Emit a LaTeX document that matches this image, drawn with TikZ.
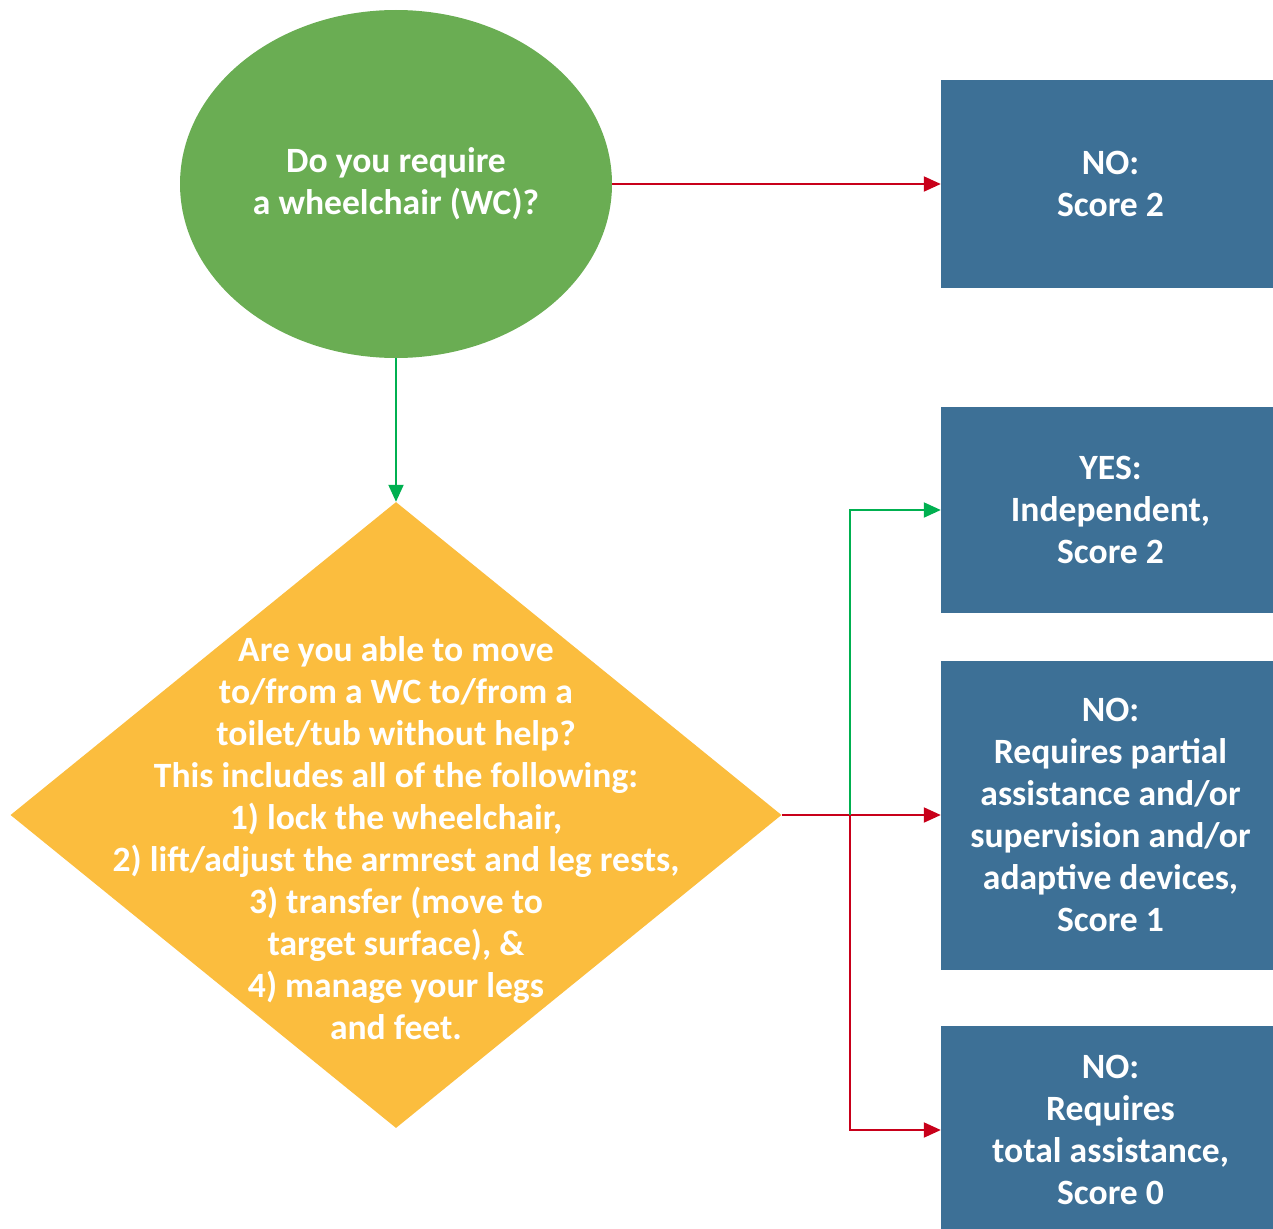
\documentclass[tikz,border=0pt]{standalone}
\usepackage{fontspec}
\setmainfont{Carlito}
\usetikzlibrary{shapes.geometric,arrows.meta}
\definecolor{boxblue}{HTML}{3D7096}
\definecolor{ellgreen}{HTML}{6AAD53}
\definecolor{diayellow}{HTML}{FBBD3E}
\definecolor{linered}{HTML}{C8001A}
\definecolor{linegreen}{HTML}{00B050}
\tikzset{
  txt/.style={text=white,font=\fontsize{35.6}{42}\selectfont\bfseries,align=center},
  scorebox/.style={draw=none,fill=boxblue,minimum width=339pt,inner sep=0pt,txt},
  redarrow/.style={draw=linered,line width=2pt,-{Triangle[length=17pt,width=15pt]}},
  greenarrow/.style={draw=linegreen,line width=2pt,-{Triangle[length=17pt,width=15pt]}},
}
\begin{document}
\begin{tikzpicture}[x=1pt,y=-1pt]
\useasboundingbox (0,0) rectangle (1273,1228);
\clip (0,0) rectangle (1273,1228);
\node[ellipse,fill=ellgreen,minimum width=432pt,minimum height=348pt,inner sep=0pt,txt] (q1) at (396,184) {Do you require\\a wheelchair (WC)?};
\node[diamond,fill=diayellow,minimum width=771pt,minimum height=626pt,inner sep=0pt] (q2) at (396,815) {};
\node[txt] (q2text) at (396,838) {Are you able to move\\to/from a WC to/from a\\toilet/tub without help?\\This includes all of the following:\\1) lock the wheelchair,\\2) lift/adjust the armrest and leg rests,\\3) transfer (move to\\target surface), \&\\4) manage your legs\\and feet.};
\node[scorebox,minimum height=207pt] (b1) at (1110.5,184) {NO:\\Score 2};
\node[scorebox,minimum height=206pt] (b2) at (1110.5,510) {YES:\\Independent,\\Score 2};
\node[scorebox,minimum height=309pt] (b3) at (1110.5,815) {NO:\\Requires partial\\assistance and/or\\supervision and/or\\adaptive devices,\\Score 1};
\node[scorebox,minimum height=208pt] (b4) at (1110.5,1130) {NO:\\Requires\\total assistance,\\Score 0};
\coordinate (j) at (850,815);
\draw[redarrow] (q1.east) -- (b1.west);
\draw[greenarrow] (q1.south) -- (q2.north);
\draw[redarrow] (q2.east) -- (b3.west);
\draw[greenarrow] (j) |- (b2.west);
\draw[redarrow] (j) |- (b4.west);
\end{tikzpicture}
\end{document}
